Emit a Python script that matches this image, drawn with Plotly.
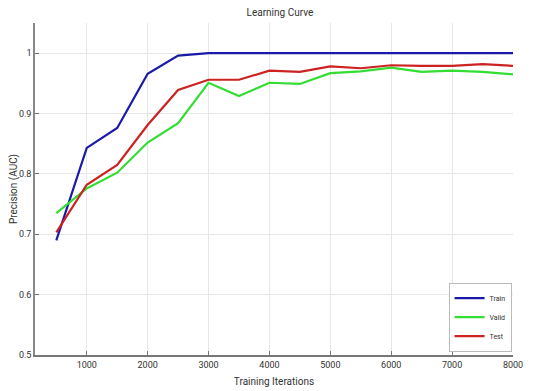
import plotly.graph_objects as go

iterations = [500, 1000, 1500, 2000, 2500, 3000, 3500, 4000, 4500, 5000, 5500, 6000, 6500, 7000, 7500, 8000]
train = [0.69, 0.843, 0.876, 0.966, 0.996, 1.0, 1.0, 1.0, 1.0, 1.0, 1.0, 1.0, 1.0, 1.0, 1.0, 1.0]
valid = [0.735, 0.776, 0.802, 0.852, 0.884, 0.951, 0.929, 0.951, 0.949, 0.967, 0.970, 0.976, 0.969, 0.971, 0.969, 0.965]
test = [0.703, 0.782, 0.815, 0.881, 0.939, 0.956, 0.956, 0.971, 0.969, 0.978, 0.975, 0.980, 0.979, 0.979, 0.982, 0.979]

x_ticks = [1000, 2000, 3000, 4000, 5000, 6000, 7000, 8000]
y_ticks = [0.5, 0.6, 0.7, 0.8, 0.9, 1.0]
y_labels = ["0.5", "0.6", "0.7", "0.8", "0.9", "1"]

FONT = "Liberation Sans Narrow, Arial Narrow, Roboto, Liberation Sans, Arial"

fig = go.Figure()
fig.add_trace(go.Scatter(x=iterations, y=train, mode="lines", name="Train",
                         line=dict(color="#1a1aa8", width=2.2)))
fig.add_trace(go.Scatter(x=iterations, y=valid, mode="lines", name="Valid",
                         line=dict(color="#33dd33", width=2.2)))
fig.add_trace(go.Scatter(x=iterations, y=test, mode="lines", name="Test",
                         line=dict(color="#cc2222", width=2.2)))

fig.update_layout(
    width=528, height=383,
    margin=dict(l=27, r=23, t=15, b=36, autoexpand=False),
    paper_bgcolor="white", plot_bgcolor="white",
    font=dict(family=FONT, size=9, color="#333333"),
    title=dict(text="Learning Curve", x=0.515, xanchor="center", y=0.987, yanchor="middle",
               font=dict(family=FONT, size=10, color="#333333"), automargin=False),
    legend=dict(x=0.997, y=0.01, xanchor="right", yanchor="bottom",
                bgcolor="white", bordercolor="#bbbbbb", borderwidth=1,
                font=dict(family=FONT, size=7, color="#333333"),
                itemwidth=30, tracegroupgap=0),
    showlegend=True,
)
fig.update_xaxes(range=[150, 8000], tickvals=x_ticks, ticktext=[str(v) for v in x_ticks],
                 automargin=False,
                 showgrid=True, gridcolor="#e6e6e6", gridwidth=1,
                 showline=True, linecolor="#777777", linewidth=2, mirror=False,
                 ticks="inside", ticklen=4, tickcolor="#777777", zeroline=False,
                 title=dict(text="Training Iterations", standoff=9,
                            font=dict(family=FONT, size=10, color="#333333")))
fig.update_yaxes(range=[0.5, 1.05], tickvals=y_ticks, ticktext=y_labels,
                 automargin=False,
                 showgrid=True, gridcolor="#e6e6e6", gridwidth=1,
                 showline=True, linecolor="#888888", linewidth=1.5, mirror=False,
                 ticks="inside", ticklen=4, tickcolor="#777777", zeroline=False,
                 title=dict(text="Precision (AUC)", standoff=1,
                            font=dict(family=FONT, size=10, color="#333333")))

fig.write_html("out.html")
